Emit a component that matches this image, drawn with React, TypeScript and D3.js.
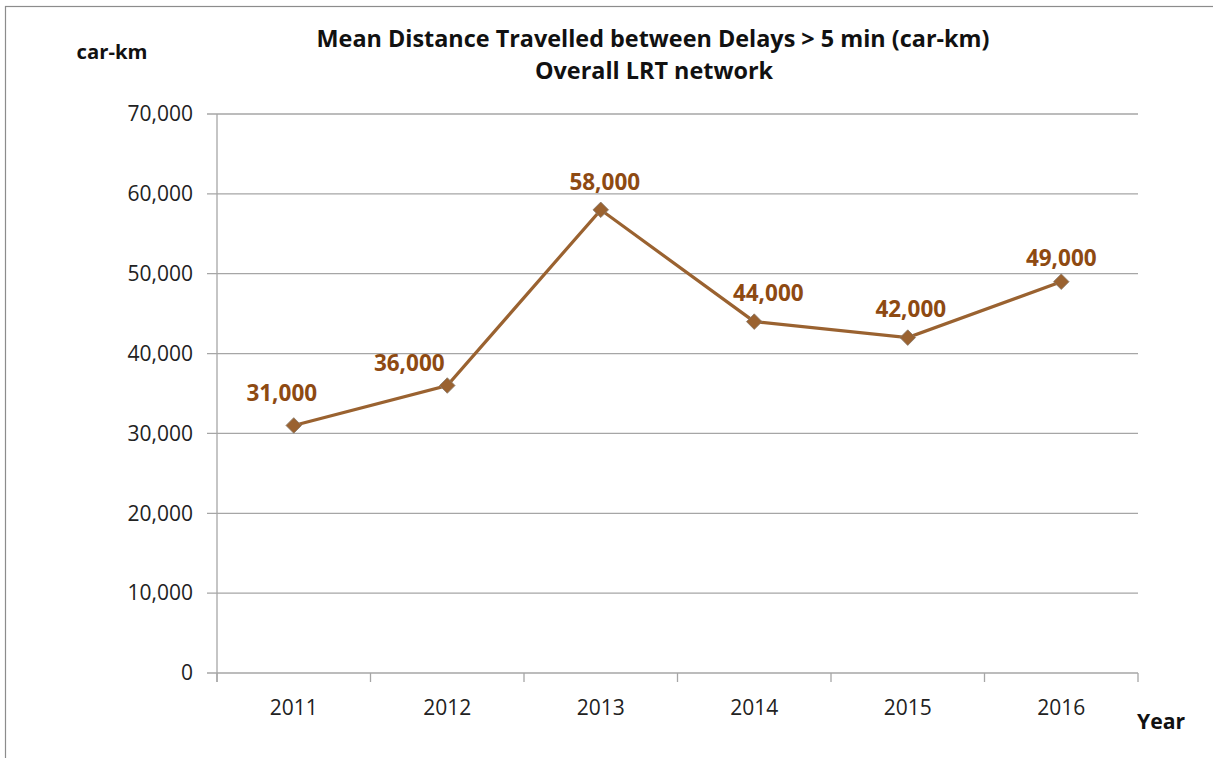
import * as React from "react"
import * as d3 from "d3"

const years = ["2011", "2012", "2013", "2014", "2015", "2016"]
const distances = [31000, 36000, 58000, 44000, 42000, 49000]
const yTicks = [0, 10000, 20000, 30000, 40000, 50000, 60000, 70000]
// label nudges (px) so the data labels sit like in the original
const labelDx = [-12, -38, 4, 14, 3, 0]
const labelDy = [-24, -15, -20, -21, -21, -16]

const FONT = "'Open Sans', 'Noto Sans', sans-serif"

export default function App() {
    const [w, h] = [1213, 758]
    const m = { top: 114, bottom: 85, left: 217, right: 75 }
    const [bounds_w, bounds_h] = [w - m.left - m.right, h - m.top - m.bottom]

    const xScale = d3.scaleBand().domain(years).range([0, bounds_w])
    const yScale = d3.scaleLinear().domain([0, 70000]).range([bounds_h, 0])
    const fmt = d3.format(",")

    const pts = years.map((yr, i) => ({
        yr,
        v: distances[i],
        x: (xScale(yr) ?? 0) + xScale.bandwidth() / 2,
        y: yScale(distances[i]),
    }))

    const line = d3.line<{ x: number; y: number }>().x(d => d.x).y(d => d.y)

    const grid = yTicks.map((d, i) => (
        <g key={i}>
            <line x1={-10} x2={bounds_w} y1={yScale(d)} y2={yScale(d)} stroke="#a6a6a6" strokeWidth={1.3} />
            <text x={-24} y={yScale(d)} dy="0.35em" fontSize={21} textAnchor="end" fill="#222" fontFamily={FONT}>
                {fmt(d)}
            </text>
        </g>
    ))

    const xTicks = [...years.map(y => xScale(y) ?? 0), bounds_w].map((x, i) => (
        <line key={i} x1={x} x2={x} y1={bounds_h} y2={bounds_h + 9} stroke="#a6a6a6" strokeWidth={1.3} />
    ))

    const xLabels = pts.map((p, i) => (
        <text key={i} x={p.x} y={bounds_h + 42} fontSize={21} textAnchor="middle" fill="#222" fontFamily={FONT}>
            {p.yr}
        </text>
    ))

    const markers = pts.map((p, i) => (
        <rect
            key={i}
            x={p.x - 5.5}
            y={p.y - 5.5}
            width={11}
            height={11}
            transform={`rotate(45 ${p.x} ${p.y})`}
            fill="#9a6230"
            stroke="#8a7a6a"
            strokeWidth={0.8}
        />
    ))

    const labels = pts.map((p, i) => (
        <text
            key={i}
            x={p.x + labelDx[i]}
            y={p.y + labelDy[i]}
            fontSize={22.5}
            fontWeight="bold"
            textAnchor="middle"
            fill="#8e4a12"
            fontFamily={FONT}
        >
            {fmt(p.v)}
        </text>
    ))

    return (
        <div>
            <svg width={w} height={h} style={{ position: "absolute", left: 0, top: 0, background: "#fff" }}>
                <rect x={5.5} y={6.5} width={w} height={h} fill="#fff" stroke="#8c8c8c" strokeWidth={1.2} />
                <text x={653} y={47} fontSize={23.4} fontWeight="bold" textAnchor="middle" fill="#111" fontFamily={FONT}>
                    Mean Distance Travelled between Delays &gt; 5 min (car-km)
                </text>
                <text x={654} y={79} fontSize={23.4} fontWeight="bold" textAnchor="middle" fill="#111" fontFamily={FONT}>
                    Overall LRT network
                </text>
                <text x={112} y={59} fontSize={20.3} fontWeight="bold" textAnchor="middle" fill="#111" fontFamily={FONT}>
                    car-km
                </text>
                <text x={1161} y={729} fontSize={21.2} fontWeight="bold" textAnchor="middle" fill="#111" fontFamily={FONT}>
                    Year
                </text>
                <g transform={`translate(${[m.left, m.top].join(",")})`}>
                    {grid}
                    <line x1={0} x2={0} y1={0} y2={bounds_h + 9} stroke="#a6a6a6" strokeWidth={1.3} />
                    {xTicks}
                    {xLabels}
                    <path d={line(pts) ?? ""} fill="none" stroke="#9a6230" strokeWidth={3.2} />
                    {markers}
                    {labels}
                </g>
            </svg>
        </div>
    )
}
